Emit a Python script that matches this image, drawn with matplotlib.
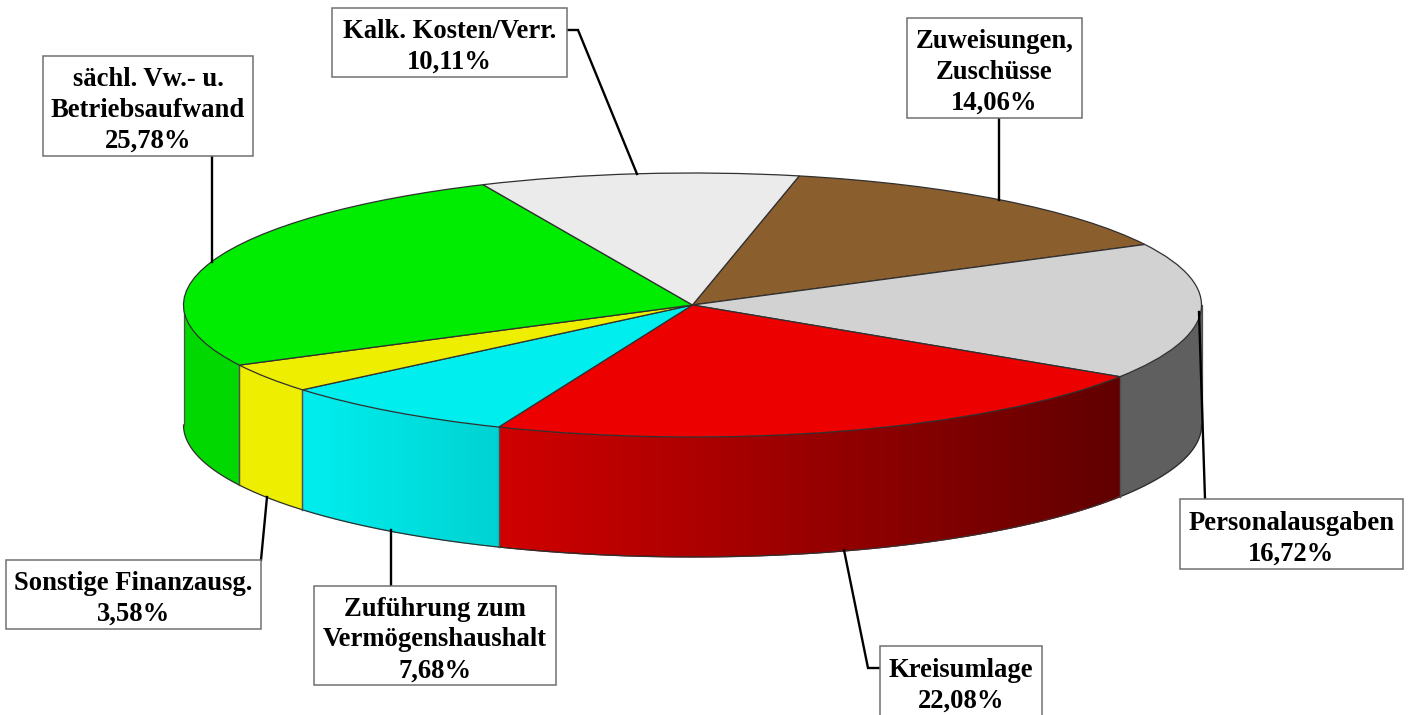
import numpy as np
import matplotlib
matplotlib.use('Agg')
import matplotlib.pyplot as plt
from matplotlib.colors import to_rgb
from matplotlib.patches import Rectangle

# Clockwise from the start angle of the first slice
labels = ['Zuweisungen,\nZuschüsse', 'Personalausgaben', 'Kreisumlage',
          'Zuführung zum\nVermögenshaushalt', 'Sonstige Finanzausg.',
          'sächl. Vw.- u.\nBetriebsaufwand', 'Kalk. Kosten/Verr.']
shares = [14.06, 16.72, 22.08, 7.68, 3.58, 25.78, 10.11]
value_text = ['14,06%', '16,72%', '22,08%', '7,68%', '3,58%', '25,78%', '10,11%']

top_colors = ['#8B5E2E', '#D2D2D2', '#EC0000', '#00EEEE', '#EEEE00', '#00EC00', '#EBEBEB']
side_left = ['#8B5E2E', '#5F5F5F', '#D00000', '#00EEEE', '#EEEE00', '#00D800', '#EBEBEB']
side_right = ['#8B5E2E', '#5F5F5F', '#600000', '#00D2D2', '#EEEE00', '#00D800', '#EBEBEB']

# Label boxes in image pixels: left, top, right, bottom
boxes = [(907, 18, 1082, 118), (1180, 499, 1403, 569), (880, 646, 1042, 716),
         (314, 586, 556, 685), (6, 560, 261, 629), (43, 56, 253, 156), (332, 8, 567, 77)]
leaders = [[(999, 118), (999, 200)],
           [(1199, 312), (1205, 499)],
           [(844, 550), (868, 668), (880, 668)],
           [(391, 530), (391, 586)],
           [(267, 497), (261, 560)],
           [(212, 156), (212, 262)],
           [(566, 30), (578, 30), (637, 174)]]

W, H = 1415, 715
cx, cy, rx, ry, depth = 692.5, 305, 509, 132, 120
start_angle = 77.9

fig = plt.figure(figsize=(W / 100, H / 100), dpi=100, facecolor='white')

# Pie axes: one data unit is the ellipse radius, so the circle becomes the disc top
ax = fig.add_axes([0, 0, 1, 1])
ax.pie(shares, colors=top_colors, startangle=start_angle, counterclock=False,
       radius=1, wedgeprops={'edgecolor': '#303030', 'linewidth': 0.9, 'zorder': 5})
ax.set_aspect('auto')

# Rim: only the part of each slice facing the viewer (angles from -180 to 0)
d = depth / ry
angle = start_angle
for i, share in enumerate(shares):
    a1 = angle
    a0 = angle - share * 360 / sum(shares)
    angle = a0
    lo, hi = max(a0, -180), min(a1, 0)
    if lo >= hi:
        continue
    t = np.radians(np.linspace(lo, hi, 161))
    x = np.cos(t)
    y = np.sin(t)
    c0 = np.array(to_rgb(side_left[i]))
    c1 = np.array(to_rgb(side_right[i]))
    # Smooth outline from a plain fill, the gradient goes on top just inside of it
    ax.fill_between(x, y - d, y, color=tuple((c0 + c1) / 2), lw=0, zorder=1)
    f = (0.5 * (x[:-1] + x[1:]) - x.min()) / (x.max() - x.min())
    C = (c0[None, :] * (1 - f[:, None]) + c1[None, :] * f[:, None])[None, :, :]
    ax.pcolormesh(np.vstack([x, x]), np.vstack([y - d + 1.2 / ry, y]), C,
                  shading='flat', zorder=1.5)
    ax.plot(x, y - d, color='#303030', lw=0.9, zorder=2)
    for xe, ye in [(x[0], y[0]), (x[-1], y[-1])]:
        ax.plot([xe, xe], [ye, ye - d], color='#505050', lw=0.9, zorder=2)
ax.set_xlim(-cx / rx, (W - cx) / rx)
ax.set_ylim((cy - H) / ry, cy / ry)
ax.set_axis_off()

# Overlay in image pixels for boxes and leader lines
over = fig.add_axes([0, 0, 1, 1])
over.set_xlim(0, W)
over.set_ylim(H, 0)
over.set_axis_off()
over.patch.set_alpha(0)

for lab, val, box, lead in zip(labels, value_text, boxes, leaders):
    l, t, r, b = box
    over.add_patch(Rectangle((l, t), r - l, b - t, facecolor='white',
                             edgecolor='#707070', linewidth=1.1, zorder=3))
    over.plot([p[0] for p in lead], [p[1] for p in lead], color='black', lw=1.7,
              solid_joinstyle='miter', zorder=2)
    over.text((l + r) / 2, (t + b) / 2 + 4.5, lab + '\n' + val, ha='center', va='center',
              multialignment='center', family='Liberation Serif', weight='bold',
              fontsize=19.2, linespacing=1.31, color='black', zorder=4)

fig.savefig('out.png', dpi=100, facecolor='white')
